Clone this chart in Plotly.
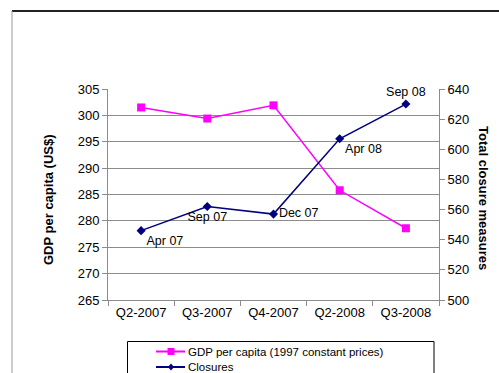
import plotly.graph_objects as go

quarters = ["Q2-2007", "Q3-2007", "Q4-2007", "Q2-2008", "Q3-2008"]
gdp = [301.5, 299.4, 301.9, 285.8, 278.6]
closures = [546, 562, 557, 607, 630]
closure_labels = ["Apr 07", "Sep 07", "Dec 07", "Apr 08", "Sep 08"]
label_pos = ["bottom right", "bottom center", "middle right", "bottom right", "top center"]
series_names = ["GDP per capita (1997 constant prices)", "Closures"]

FONT = "Liberation Sans, Arial, sans-serif"
GRID = "#8c8c8c"
PINK = "#FF00FF"
NAVY = "#000080"

# plot area in pixels
L, R, T, B = 108, 439, 89, 300
W, H = R - L, B - T


def px(x):
    return (x - L) / W


def py(y):
    return (B - y) / H


fig = go.Figure()
fig.add_trace(go.Scatter(
    x=quarters, y=gdp, name=series_names[0],
    mode="lines+markers", line=dict(color=PINK, width=1.5),
    marker=dict(symbol="square", size=8, color=PINK),
))
fig.add_trace(go.Scatter(
    x=quarters, y=closures, name=series_names[1], yaxis="y2",
    mode="lines+markers+text", line=dict(color=NAVY, width=1.5),
    marker=dict(symbol="diamond", size=7, color=NAVY),
    text=closure_labels, textposition=label_pos, cliponaxis=False,
    textfont=dict(family=FONT, size=12.5, color="#000000"),
))

shapes = [
    dict(type="line", xref="paper", yref="paper",
         x0=px(12), x1=px(510), y0=py(11), y1=py(11),
         line=dict(color="#222222", width=2)),
    dict(type="line", xref="paper", yref="paper",
         x0=px(12), x1=px(12), y0=py(11), y1=py(380),
         line=dict(color="#999999", width=1)),
    dict(type="rect", xref="paper", yref="paper",
         x0=px(127.5), x1=px(434), y0=py(341.5), y1=py(385),
         line=dict(color="#000000", width=1), fillcolor="rgba(0,0,0,0)"),
]
annotations = [
    dict(text="<b>GDP per capita (US$)</b>", xref="paper", yref="paper",
         x=px(48), y=py(200), textangle=-90,
         showarrow=False, font=dict(size=13), xanchor="center", yanchor="middle"),
    dict(text="<b>Total closure measures</b>", xref="paper", yref="paper",
         x=px(484), y=py(198), textangle=90,
         showarrow=False, font=dict(size=13), xanchor="center", yanchor="middle"),
]
rows = [351.5, 367]
for i, (name, col) in enumerate(zip(series_names, [PINK, NAVY])):
    yy = rows[i]
    shapes.append(dict(type="line", xref="paper", yref="paper",
                       x0=px(156), x1=px(185), y0=py(yy), y1=py(yy),
                       line=dict(color=col, width=2)))
    cx = 171
    if i == 0:
        shapes.append(dict(type="rect", xref="paper", yref="paper",
                           x0=px(cx - 3.5), x1=px(cx + 3.5), y0=py(yy + 3.5), y1=py(yy - 3.5),
                           line=dict(color=col, width=0), fillcolor=col))
    else:
        path = "M {a},{b} L {c},{d} L {a},{e} L {f},{d} Z".format(
            a=px(cx), b=py(yy - 3.5), c=px(cx + 3), d=py(yy), e=py(yy + 3.5), f=px(cx - 3))
        shapes.append(dict(type="path", xref="paper", yref="paper", path=path,
                           line=dict(color=col, width=0), fillcolor=col))
    annotations.append(dict(text=name, xref="paper", yref="paper",
                            x=px(186), y=py(yy), xanchor="left", yanchor="middle",
                            showarrow=False, font=dict(size=11.5, color="#000000")))

fig.update_layout(
    width=499, height=373,
    margin=dict(l=L, r=499 - R, t=T, b=373 - B),
    paper_bgcolor="white", plot_bgcolor="white",
    font=dict(family=FONT, size=13, color="#000000"),
    showlegend=False,
    xaxis=dict(
        type="category", range=[-0.5, 4.5],
        showline=True, linecolor=GRID, linewidth=1,
        ticks="outside", tickson="boundaries", ticklen=5, tickcolor=GRID,
        showgrid=False, tickfont=dict(size=13),
    ),
    yaxis=dict(
        range=[265, 305], dtick=5, tick0=265,
        showline=True, linecolor=GRID, linewidth=1,
        ticks="outside", ticklen=5, tickcolor=GRID,
        showgrid=True, gridcolor=GRID, gridwidth=1,
        zeroline=False, tickfont=dict(size=13),
    ),
    yaxis2=dict(
        overlaying="y", side="right",
        range=[500, 640], dtick=20, tick0=500,
        showline=True, linecolor=GRID, linewidth=1,
        ticks="outside", ticklen=5, tickcolor=GRID,
        showgrid=False, zeroline=False, tickfont=dict(size=13),
    ),
    annotations=annotations,
    shapes=shapes,
)

fig.write_html("out.html")
